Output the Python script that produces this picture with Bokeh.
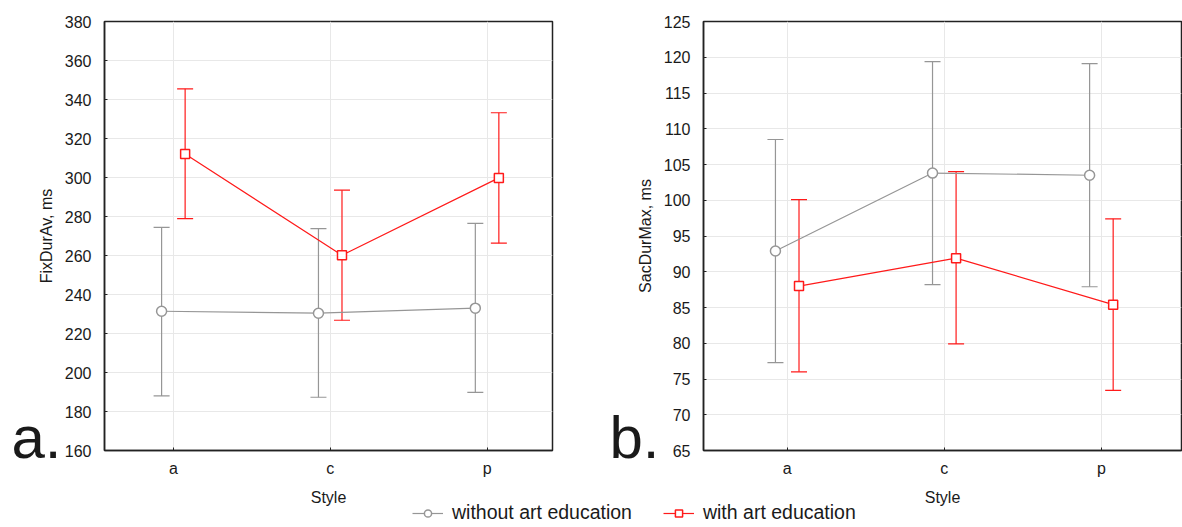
from bokeh.plotting import figure
from bokeh.models import (ColumnDataSource, Whisker, TeeHead, FixedTicker, SingleIntervalTicker,
                          Label, Legend, LegendItem, Range1d)
from bokeh.layouts import row, column
from bokeh.embed import file_html
from bokeh.resources import INLINE

# ---------------- data ----------------
styles = ["a", "c", "p"]

fix_without_mean = [231.4, 230.4, 233.0]
fix_without_upper = [274.4, 273.8, 276.5]
fix_without_lower = [188.0, 187.3, 189.8]
fix_with_mean = [312.1, 260.1, 299.8]
fix_with_upper = [345.5, 293.5, 333.2]
fix_with_lower = [278.9, 226.8, 266.3]

sac_without_mean = [92.9, 103.8, 103.5]
sac_without_upper = [108.5, 119.4, 119.1]
sac_without_lower = [77.3, 88.2, 87.9]
sac_with_mean = [88.0, 91.9, 85.4]
sac_with_upper = [100.1, 104.0, 97.4]
sac_with_lower = [76.0, 79.9, 73.4]

series_names = ["without art education", "with art education"]
panel_tags = ["a.", "b."]

FONT = "Liberation Sans"
GRAY = "#969696"
RED = "#ff1a1a"
GRID = "#e8e8e8"
TXT = "#1a1a1a"
OFFSET = 0.075
W, H = 1182, 527
NAN = float("nan")


def make_panel(width, border_left, border_top, border_bottom, border_right,
               x_start, x_end, y_start, y_end, y_step, y_label, series):
    p = figure(width=width, height=H, output_backend="svg", toolbar_location=None,
               x_range=Range1d(x_start, x_end), y_range=Range1d(y_start, y_end),
               min_border_left=border_left, min_border_top=border_top,
               min_border_bottom=border_bottom, min_border_right=border_right)
    p.outline_line_color = "#222222"
    p.outline_line_width = 1.5
    p.background_fill_color = "white"
    p.border_fill_color = "white"

    p.xaxis.ticker = FixedTicker(ticks=list(range(len(styles))))
    p.xaxis.major_label_overrides = {i: s for i, s in enumerate(styles)}
    p.yaxis.ticker = SingleIntervalTicker(interval=y_step)
    for ax in (p.xaxis[0], p.yaxis[0]):
        ax.axis_line_color = "#222222"
        ax.axis_line_width = 1.5
        ax.major_tick_in = 3
        ax.major_tick_out = 0
        ax.major_tick_line_color = "#222222"
        ax.minor_tick_line_color = None
        ax.major_label_text_font = FONT
        ax.major_label_text_font_size = "16px"
        ax.major_label_text_color = TXT
        ax.axis_label_text_font = FONT
        ax.axis_label_text_font_size = "16px"
        ax.axis_label_text_font_style = "normal"
        ax.axis_label_text_color = TXT
    p.xaxis.axis_label = "Style"
    p.xaxis.major_label_standoff = 9
    p.xaxis.axis_label_standoff = 9
    p.yaxis.axis_label = y_label
    p.yaxis.major_label_standoff = 9
    p.yaxis.axis_label_standoff = 7

    p.xgrid.ticker = FixedTicker(ticks=list(range(len(styles))))
    p.xgrid.grid_line_color = GRID
    p.ygrid.grid_line_color = GRID

    for mean, upper, lower, color, marker, size, offset in series:
        xs = [i + offset for i in range(len(styles))]
        src = ColumnDataSource(dict(x=xs, mean=mean, upper=upper, lower=lower))
        p.add_layout(Whisker(source=src, base="x", upper="upper", lower="lower",
                             line_color=color, line_width=1.2,
                             upper_head=TeeHead(size=16, line_color=color, line_width=1.2),
                             lower_head=TeeHead(size=16, line_color=color, line_width=1.2)))
        p.line("x", "mean", source=src, line_color=color, line_width=1.2)
        p.scatter("x", "mean", source=src, marker=marker, size=size,
                  fill_color="white", line_color=color, line_width=1.5)
    return p


left_series = [
    (fix_without_mean, fix_without_upper, fix_without_lower, GRAY, "circle", 10, -OFFSET),
    (fix_with_mean, fix_with_upper, fix_with_lower, RED, "square", 9, OFFSET),
]
right_series = [
    (sac_without_mean, sac_without_upper, sac_without_lower, GRAY, "circle", 10, -OFFSET),
    (sac_with_mean, sac_with_upper, sac_with_lower, RED, "square", 9, OFFSET),
]

W1 = 600
p1 = make_panel(W1, 104, 16, 77, W1 - 552, -0.439, 2.417, 160, 380, 20, "FixDurAv, ms", left_series)
p2 = make_panel(W - W1, 703 - W1, 21, 73, 1, -0.533, 2.51, 65, 125, 5, "SacDurMax, ms", right_series)

# ---- transparent overlay for panel tags and the shared legend ----
ov = figure(width=W, height=H, output_backend="svg", toolbar_location=None,
            x_range=Range1d(0, W), y_range=Range1d(H, 0),
            x_axis_type=None, y_axis_type=None, min_border=0)
ov.xgrid.visible = False
ov.ygrid.visible = False
ov.outline_line_color = None
ov.background_fill_alpha = 0
ov.border_fill_alpha = 0

for tag, xpos in zip(panel_tags, (11, 609)):
    ov.add_layout(Label(x=xpos, y=437, text=tag, text_font=FONT, text_font_size="60px",
                        text_color=TXT, text_baseline="alphabetic"))

items = []
for name, color, marker, size in zip(series_names, (GRAY, RED), ("circle", "square"), (10, 9)):
    src = ColumnDataSource(dict(x=[NAN], y=[NAN]))
    r_line = ov.line("x", "y", source=src, line_color=color, line_width=1.2)
    r_bar = ov.scatter("x", "y", source=src, marker="cross", size=17,
                       line_color=color, line_width=1.2)
    r_pt = ov.scatter("x", "y", source=src, marker=marker, size=size, fill_color="white",
                      line_color=color, line_width=1.5)
    items.append(LegendItem(label=name, renderers=[r_line, r_bar, r_pt]))

legend = Legend(items=items, location=(412, 3), orientation="horizontal",
                padding=0, margin=0, spacing=31, glyph_width=31, glyph_height=18,
                label_height=20, label_standoff=9, label_text_font=FONT,
                label_text_font_size="19.5px", label_text_color=TXT,
                background_fill_alpha=0, border_line_color=None)
ov.add_layout(legend, "center")
ov.margin = (-H, 0, 0, 0)

layout = column(row(p1, p2), ov)
open("out.html", "w").write(file_html(layout, INLINE))
